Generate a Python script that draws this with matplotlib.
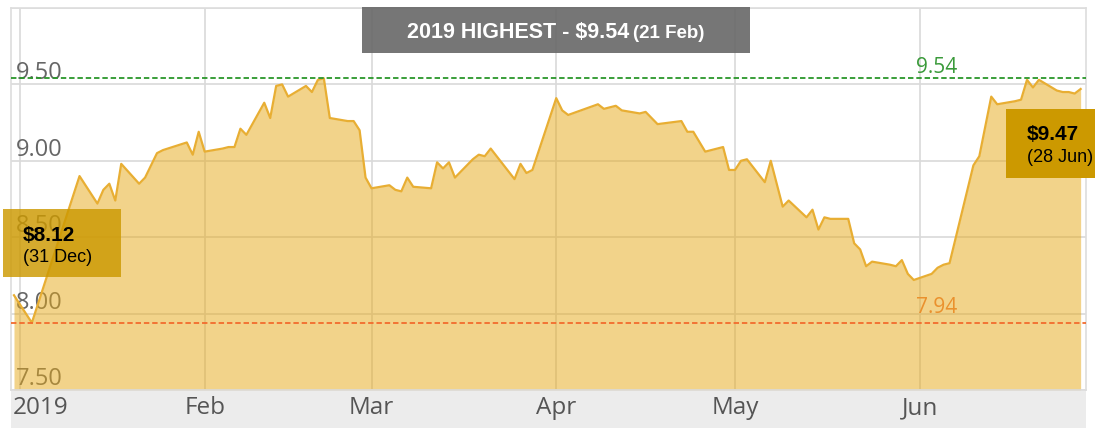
import numpy as np
import pandas as pd
import matplotlib
matplotlib.use("Agg")
import matplotlib.pyplot as plt
import matplotlib.dates as mdates
from matplotlib.patches import Rectangle

# closing prices
dates = [
    "2018-12-31", "2019-01-03", "2019-01-11", "2019-01-14", "2019-01-15", "2019-01-16",
    "2019-01-17", "2019-01-18", "2019-01-21", "2019-01-22", "2019-01-23", "2019-01-24",
    "2019-01-25", "2019-01-29", "2019-01-30", "2019-01-31", "2019-02-01", "2019-02-04",
    "2019-02-05", "2019-02-06", "2019-02-07", "2019-02-08", "2019-02-11", "2019-02-12",
    "2019-02-13", "2019-02-14", "2019-02-15", "2019-02-18", "2019-02-19", "2019-02-20",
    "2019-02-21", "2019-02-22", "2019-02-25", "2019-02-26", "2019-02-27", "2019-02-28",
    "2019-03-01", "2019-03-04", "2019-03-05", "2019-03-06", "2019-03-07", "2019-03-08",
    "2019-03-11", "2019-03-12", "2019-03-13", "2019-03-14", "2019-03-15", "2019-03-18",
    "2019-03-19", "2019-03-20", "2019-03-21", "2019-03-25", "2019-03-26", "2019-03-27",
    "2019-03-28", "2019-04-01", "2019-04-02", "2019-04-03", "2019-04-08", "2019-04-09",
    "2019-04-11", "2019-04-12", "2019-04-15", "2019-04-16", "2019-04-18", "2019-04-22",
    "2019-04-23", "2019-04-24", "2019-04-26", "2019-04-29", "2019-04-30", "2019-05-01",
    "2019-05-02", "2019-05-03", "2019-05-06", "2019-05-07", "2019-05-09", "2019-05-10",
    "2019-05-13", "2019-05-14", "2019-05-15", "2019-05-16", "2019-05-17", "2019-05-20",
    "2019-05-21", "2019-05-22", "2019-05-23", "2019-05-24", "2019-05-27", "2019-05-28",
    "2019-05-29", "2019-05-30", "2019-05-31", "2019-06-03", "2019-06-04", "2019-06-05",
    "2019-06-06", "2019-06-10", "2019-06-11", "2019-06-13", "2019-06-14", "2019-06-17",
    "2019-06-18", "2019-06-19", "2019-06-20", "2019-06-21", "2019-06-24", "2019-06-25",
    "2019-06-26", "2019-06-27", "2019-06-28",
]
prices = [
    8.12, 7.94, 8.90, 8.72, 8.81, 8.85,
    8.74, 8.98, 8.85, 8.89, 8.97, 9.05,
    9.07, 9.12, 9.04, 9.19, 9.06, 9.08,
    9.09, 9.09, 9.21, 9.17, 9.38, 9.28,
    9.49, 9.50, 9.42, 9.49, 9.45, 9.53,
    9.54, 9.28, 9.26, 9.26, 9.20, 8.89,
    8.82, 8.84, 8.81, 8.80, 8.89, 8.83,
    8.82, 8.99, 8.95, 8.99, 8.89, 9.01,
    9.04, 9.03, 9.08, 8.88, 8.98, 8.92,
    8.94, 9.41, 9.33, 9.30, 9.37, 9.34,
    9.36, 9.33, 9.31, 9.32, 9.24, 9.26,
    9.19, 9.19, 9.06, 9.09, 8.94, 8.94,
    9.00, 9.01, 8.86, 9.00, 8.70, 8.74,
    8.63, 8.68, 8.55, 8.63, 8.62, 8.62,
    8.46, 8.42, 8.31, 8.34, 8.32, 8.31,
    8.35, 8.26, 8.22, 8.26, 8.30, 8.32,
    8.33, 8.97, 9.03, 9.42, 9.37, 9.39,
    9.40, 9.53, 9.48, 9.53, 9.46, 9.45,
    9.45, 9.44, 9.47,
]

high_val = 9.54
low_val = 7.94
y_ticks = [7.5, 8.0, 8.5, 9.0, 9.5, 10.0]
y_labels = ["7.50", "8.00", "8.50", "9.00", "9.50"]
month_ticks = ["2019-01-01", "2019-02-01", "2019-03-01", "2019-04-01", "2019-05-01", "2019-06-01"]
month_labels = ["2019", "Feb", "Mar", "Apr", "May", "Jun"]

W, H = 1095, 428
fig = plt.figure(figsize=(W / 100, H / 100), dpi=100)
ax = fig.add_axes([11 / W, 1 - 390 / H, (1086 - 11) / W, (390 - 8) / H])
ax.set_zorder(1)
ax.patch.set_alpha(0)

x = mdates.date2num(pd.to_datetime(dates))
xm = mdates.date2num(pd.to_datetime(month_ticks))
jan1 = xm[0]

ax.fill_between(x, prices, 7.5, color="#e6a817", alpha=0.5, lw=0, zorder=2)
ax.plot(x, prices, color="#e8ae33", lw=1.6, zorder=3)

ax.axhline(high_val, color="#2a962a", lw=1.3, ls=(0, (3, 1.6)), zorder=4)
ax.axhline(low_val, color="#f26b2e", lw=1.3, ls=(0, (3, 1.6)), zorder=4)

ax.set_xlim(jan1 - 1.5, jan1 + 178.9)
ax.set_ylim(7.5, 10.0)
ax.set_xticks(xm)
ax.set_yticks(y_ticks)
ax.tick_params(length=0, labelbottom=False, labelleft=False)
ax.set_axisbelow(True)
ax.grid(True, color="#d9d9d9", lw=1.2)
for s in ax.spines.values():
    s.set_color("#dddddd")
    s.set_linewidth(1.2)

tick_font = "Open Sans"
for v, lab in zip(y_ticks, y_labels):
    ax.annotate(lab, xy=(0, v), xycoords=("axes fraction", "data"), xytext=(5, 5),
                textcoords="offset pixels", ha="left", va="baseline",
                fontsize=17, family=tick_font, color="#666666", zorder=1)

for i, (d, lab) in enumerate(zip(xm, month_labels)):
    if i == 0:
        ax.annotate(lab, xy=(0, 0), xycoords="axes fraction", xytext=(2, -6),
                    textcoords="offset pixels", ha="left", va="top",
                    fontsize=17.5, family=tick_font, color="#555555", annotation_clip=False)
    else:
        ax.annotate(lab, xy=(d, 0), xycoords=("data", "axes fraction"), xytext=(0, -6),
                    textcoords="offset pixels", ha="center", va="top",
                    fontsize=17.5, family=tick_font, color="#555555", annotation_clip=False)

ax.annotate("9.54", xy=(0.861, high_val), xycoords=("axes fraction", "data"), xytext=(0, 5),
            textcoords="offset pixels", ha="center", va="baseline",
            fontsize=15, family=tick_font, color="#3a9a3a", zorder=5)
ax.annotate("7.94", xy=(0.861, low_val), xycoords=("axes fraction", "data"), xytext=(0, 10),
            textcoords="offset pixels", ha="center", va="baseline",
            fontsize=15, family=tick_font, color="#f07a45", zorder=1.5)


def fig_rect(x0, y0, x1, y1, **kw):
    r = Rectangle((x0 / W, 1 - y1 / H), (x1 - x0) / W, (y1 - y0) / H,
                  transform=fig.transFigure, **kw)
    fig.patches.append(r)


def fig_text(px, py, s, **kw):
    fig.text(px / W, 1 - py / H, s, ha="left", va="baseline", **kw)


# grey band under the x axis (drawn behind the axes)
fig_rect(11, 390, 1086, 428, color="#ececec", lw=0, zorder=0)

# title box
fig_rect(362, 7, 750, 53, color="#6a6a6a", alpha=0.92, lw=0, zorder=10)
box_font = "Liberation Sans"
fig_text(407, 38, "2019 HIGHEST - $9.54", fontsize=15.5, weight="bold",
         family=box_font, color="white", zorder=11)
fig_text(633, 38, "(21 Feb)", fontsize=13.5, weight="bold",
         family=box_font, color="white", zorder=11)

# first / last price boxes
fig_rect(3, 209, 121, 277, color="#cc9900", alpha=0.82, lw=0, zorder=10)
fig_text(23, 241, "$8.12", fontsize=15, weight="bold", family=box_font, color="black", zorder=11)
fig_text(23, 262, "(31 Dec)", fontsize=13, family=box_font, color="black", zorder=11)

fig_rect(1006, 109, 1095, 178, color="#cc9900", lw=0, zorder=10)
fig_text(1027, 140, "$9.47", fontsize=15, weight="bold", family=box_font, color="black", zorder=11)
fig_text(1027, 162, "(28 Jun)", fontsize=13, family=box_font, color="black", zorder=11)

fig.savefig("out.png", dpi=100)
